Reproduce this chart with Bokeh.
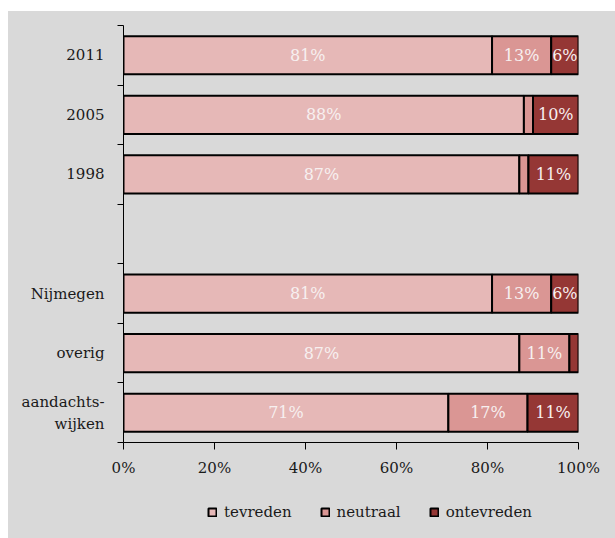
from bokeh.plotting import figure
from bokeh.models import ColumnDataSource, FixedTicker, Legend, LegendItem, Range1d, Spacer
from bokeh.layouts import column, row
from bokeh.core.properties import value
from bokeh.embed import file_html
from bokeh.resources import INLINE

rows = ["2011", "2005", "1998", "", "Nijmegen", "overig", "aandachts-\nwijken"]
groups = ["2011", "2005", "1998", "Nijmegen", "overig", "aandachts-\nwijken"]
series = ["tevreden", "neutraal", "ontevreden"]
tevreden = [81, 88, 87, 81, 87, 71.4]
neutraal = [13, 2, 2, 13, 11, 17.4]
ontevreden = [6, 10, 11, 6, 2, 11.2]
colors = ["#e6b8b7", "#da9694", "#953735"]
x_ticks = [0, 20, 40, 60, 80, 100]
x_tick_labels = ["0%", "20%", "40%", "60%", "80%", "100%"]

FONT = "DejaVu Serif"
BG = "#d9d9d9"

n = len(rows)
ypos = {r: n - i - 0.5 for i, r in enumerate(rows)}
y = [ypos[g] for g in groups]

src = ColumnDataSource(dict(y=y, tevreden=tevreden, neutraal=neutraal, ontevreden=ontevreden))

p = figure(frame_width=455, frame_height=417, x_range=Range1d(0, 100), y_range=Range1d(0, n),
           output_backend="svg", toolbar_location=None,
           min_border_left=115, min_border_right=37, min_border_top=14, min_border_bottom=48,
           background_fill_color=BG, border_fill_color=BG, outline_line_color=None)
p.grid.visible = False

rends = p.hbar_stack(series, y="y", height=0.64, color=colors, source=src,
                     line_color="black", line_width=2)

lx, ly, lt = [], [], []
for i, g in enumerate(groups):
    left = 0
    for vals in (tevreden, neutraal, ontevreden):
        v = vals[i]
        if v >= 5:
            lx.append(left + v / 2)
            ly.append(y[i])
            lt.append(f"{round(v)}%")
        left += v
p.text(x=lx, y=ly, text=lt, text_align="center", text_baseline="middle",
       text_color="#f7f0f0", text_font=value(FONT), text_font_size="16px")

yaxis = p.yaxis[0]
yaxis.ticker = FixedTicker(ticks=[ypos[r] for r in rows], minor_ticks=list(range(n + 1)))
yaxis.major_label_overrides = {ypos[r]: r for r in rows}
yaxis.major_tick_out = 0
yaxis.major_tick_in = 0
yaxis.minor_tick_out = 6
yaxis.minor_tick_in = 0
yaxis.minor_tick_line_color = "black"
yaxis.axis_line_color = "black"
yaxis.major_label_standoff = 13
yaxis.major_label_text_font = FONT
yaxis.major_label_text_font_size = "15px"
yaxis.major_label_text_color = "#1a1a1a"

xaxis = p.xaxis[0]
xaxis.ticker = FixedTicker(ticks=x_ticks)
xaxis.major_label_overrides = {t: l for t, l in zip(x_ticks, x_tick_labels)}
xaxis.major_tick_out = 7
xaxis.major_tick_in = 0
xaxis.minor_tick_out = 0
xaxis.minor_tick_in = 0
xaxis.axis_line_color = "black"
xaxis.major_tick_line_color = "black"
xaxis.major_label_standoff = 9
xaxis.major_label_text_font = FONT
xaxis.major_label_text_font_size = "15px"
xaxis.major_label_text_color = "#1a1a1a"

# legend strip below the chart (swatches share the bars' styles; no data drawn)
nan = float("nan")
pl = figure(width=607, height=48, x_range=Range1d(0, 1), y_range=Range1d(0, 1),
            output_backend="svg", toolbar_location=None,
            x_axis_location=None, y_axis_location=None, min_border=0,
            background_fill_color=BG, border_fill_color=BG, outline_line_color=None)
pl.grid.visible = False
dummies = [pl.hbar(y=[nan], right=[nan], height=0.5, fill_color=c, line_color="black", line_width=2)
           for c in colors]
legend = Legend(items=[LegendItem(label=s, renderers=[r]) for s, r in zip(series, dummies)],
                orientation="horizontal", location=(84, 17))
legend.background_fill_alpha = 0
legend.border_line_color = None
legend.glyph_width = 10
legend.glyph_height = 10
legend.label_text_font = FONT
legend.label_text_font_size = "15px"
legend.label_text_color = "#1a1a1a"
legend.spacing = 28
legend.label_standoff = 7
legend.padding = 0
legend.margin = 0
pl.add_layout(legend, "center")

inner = column(p, pl, spacing=0, styles={"background-color": BG})
layout = column(Spacer(height=11), row(Spacer(width=8), inner))

open("out.html", "w").write(file_html(layout, INLINE))
